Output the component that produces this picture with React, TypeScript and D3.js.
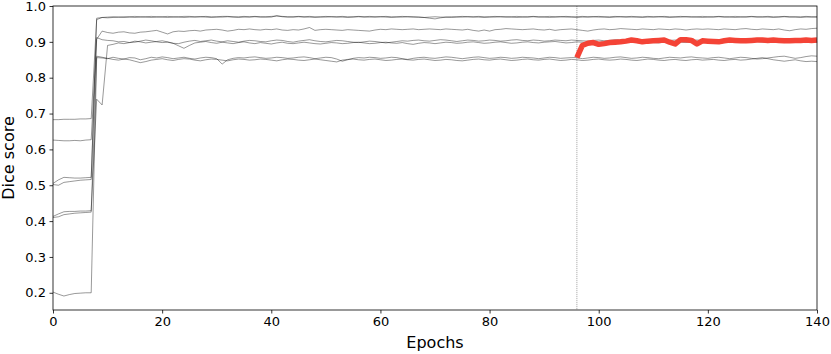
import React, { useEffect, useRef } from 'react';
import * as d3 from 'd3';

// dice score per epoch (index = epoch), one array per training run
const run1 = [
  .683, .683, .684, .684, .684, .685, .685, .686,
  .962, .968, .969, .970, .969, .970, .970, .971, .970, .970, .971, .970,
  .970, .971, .970, .970, .971, .971, .970, .970, .971, .970, .970, .971, .971, .970, .970, .971, .970, .971, .970, .970,
  .971, .972, .971, .970, .970, .971, .970, .971, .970, .970, .971, .970, .970, .971, .970, .970, .971, .970, .971, .970,
  .970, .971, .970, .970, .971, .970, .970, .969, .968, .966, .964, .967, .969, .970, .970, .971, .970, .970, .971, .970,
  .970, .971, .970, .970, .970, .971, .970, .970, .971, .970, .970, .971, .970, .970, .971, .970, .970, .971, .970, .970,
  .971, .970, .970, .971, .970, .970, .971, .970, .970, .971, .970, .970, .971, .970, .970, .971, .970, .970, .970, .971,
  .970, .970, .971, .970, .970, .971, .970, .970, .971, .970, .970, .971, .970, .970, .971, .970, .970, .970, .971, .970, .970,
];

const run2 = [
  .502, .500, .508, .510, .512, .514, .515, .516,
  .966, .968, .967, .968, .969, .968, .969, .968, .969, .969, .968, .969,
  .969, .968, .969, .969, .968, .969, .969, .970, .969, .968, .969, .969, .970, .969, .968, .969, .969, .970, .969, .969,
  .969, .973, .970, .969, .969, .970, .969, .969, .968, .969, .969, .970, .969, .969, .968, .969, .970, .969, .969, .969,
  .970, .969, .968, .969, .969, .970, .969, .969, .968, .969, .970, .969, .969, .968, .969, .969, .970, .969, .969, .968,
  .969, .969, .970, .969, .969, .968, .969, .969, .970, .969, .969, .968, .969, .970, .969, .969, .968, .969, .969, .970,
  .969, .969, .968, .969, .970, .969, .969, .969, .968, .969, .969, .970, .969, .968, .969, .969, .970, .969, .969, .968,
  .969, .969, .970, .969, .969, .968, .969, .969, .970, .969, .969, .969, .968, .969, .970, .969, .969, .968, .969, .969, .969,
];

const run3 = [
  .626, .625, .624, .624, .625, .624, .626, .627,
  .907, .930, .926, .924, .927, .928, .925, .924, .927, .928, .930, .932,
  .927, .922, .928, .930, .929, .931, .932, .930, .933, .934, .935, .933, .930, .932, .935, .934, .936, .934, .933, .935,
  .934, .936, .933, .932, .934, .933, .936, .940, .932, .934, .935, .934, .933, .932, .934, .933, .932, .931, .930, .933,
  .935, .934, .936, .935, .934, .935, .936, .934, .935, .936, .935, .934, .936, .935, .934, .933, .935, .932, .930, .933,
  .930, .934, .935, .937, .936, .935, .934, .935, .936, .934, .933, .935, .932, .934, .935, .936, .934, .932, .930, .933,
  .935, .936, .934, .935, .937, .936, .935, .934, .936, .935, .934, .936, .935, .934, .936, .935, .933, .935, .936, .935,
  .936, .935, .934, .936, .935, .934, .936, .937, .935, .934, .936, .935, .934, .936, .933, .931, .934, .936, .935, .937, .938,
];

const run4 = [
  .505, .515, .522, .521, .520, .520, .521, .522,
  .912, .906, .904, .903, .900, .901, .898, .899, .902, .905, .903, .900,
  .898, .899, .896, .895, .899, .902, .904, .901, .903, .905, .902, .900, .903, .901, .899, .902, .904, .903, .901, .900,
  .903, .905, .904, .901, .899, .902, .904, .906, .903, .901, .900, .902, .904, .903, .901, .899, .898, .900, .902, .901,
  .899, .897, .899, .901, .903, .902, .904, .905, .903, .902, .904, .906, .905, .903, .901, .903, .905, .904, .902, .903,
  .905, .904, .902, .903, .905, .906, .904, .903, .905, .904, .902, .903, .905, .904, .903, .905, .904, .903, .902, .904,
  .905, .903, .904, .906, .905, .903, .904, .905, .903, .902, .904, .905, .903, .904, .905, .903, .902, .904, .905, .904,
  .903, .905, .904, .902, .903, .905, .904, .903, .905, .904, .902, .904, .905, .903, .904, .905, .903, .902, .904, .905, .904,
];

const run5 = [
  .413, .420, .426, .427, .427, .428, .428, .429,
  .740, .724, .890, .893, .897, .895, .898, .902, .900, .897, .899, .901,
  .903, .900, .896, .889, .882, .890, .897, .899, .901, .898, .896, .899, .897, .895, .898, .900, .897, .895, .898, .896,
  .894, .897, .899, .896, .895, .897, .899, .897, .895, .894, .896, .898, .897, .895, .896, .898, .899, .897, .895, .896,
  .898, .899, .897, .896, .898, .895, .893, .896, .898, .897, .895, .897, .899, .898, .896, .897, .899, .900, .898, .896,
  .897, .899, .900, .898, .896, .897, .899, .900, .898, .897, .899, .900, .901, .899, .897, .898, .900, .899, .897, .898,
  .899, .900, .898, .897, .899, .901, .900, .898, .899, .900, .898, .897, .899, .900, .901, .899, .898, .900, .899, .898,
  .899, .900, .901, .899, .898, .900, .899, .898, .900, .901, .899, .898, .900, .899, .898, .900, .901, .899, .898, .900, .899,
];

const run6 = [
  .202, .196, .191, .195, .198, .199, .200, .200,
  .856, .855, .853, .857, .854, .852, .856, .855, .850, .853, .857, .855,
  .858, .856, .853, .855, .857, .854, .852, .855, .857, .856, .853, .838, .850, .854, .856, .855, .857, .858, .856, .854,
  .855, .857, .856, .854, .855, .857, .858, .856, .853, .855, .857, .856, .852, .846, .850, .854, .856, .855, .857, .856,
  .854, .855, .857, .856, .853, .851, .854, .856, .857, .855, .854, .856, .858, .857, .855, .853, .855, .857, .858, .856,
  .854, .855, .857, .856, .854, .855, .857, .856, .855, .853, .855, .857, .856, .854, .855, .856, .856, .853, .855, .857,
  .856, .854, .855, .857, .858, .856, .854, .855, .857, .856, .854, .853, .855, .857, .856, .855, .857, .858, .856, .855,
  .854, .856, .857, .855, .853, .855, .857, .856, .854, .852, .853, .855, .857, .859, .860, .857, .854, .856, .859, .861, .860,
];

const run7 = [
  .410, .412, .418, .420, .422, .423, .424, .425,
  .860, .857, .854, .851, .849, .852, .850, .846, .842, .845, .849, .851,
  .853, .850, .848, .851, .853, .852, .849, .847, .850, .852, .851, .849, .847, .850, .852, .851, .849, .850, .852, .851,
  .849, .847, .850, .852, .851, .849, .848, .850, .852, .850, .848, .846, .844, .849, .851, .852, .850, .849, .851, .852,
  .850, .848, .849, .851, .852, .850, .849, .851, .852, .850, .848, .849, .851, .850, .848, .847, .849, .851, .852, .850,
  .849, .851, .852, .850, .848, .849, .851, .852, .850, .849, .851, .852, .850, .848, .849, .851, .850, .848, .849, .851,
  .852, .850, .849, .850, .852, .851, .849, .848, .850, .852, .851, .849, .848, .850, .851, .849, .848, .850, .851, .849,
  .850, .851, .849, .848, .850, .851, .849, .850, .852, .854, .856, .853, .850, .848, .846, .848, .850, .847, .845, .846, .845,
];

const runs = [run1, run2, run3, run4, run5, run6, run7];

// fine-tuned run, starts at epoch 96
const fineTuneStart = 96;
const fineTune = [
  .856, .890, .896, .898, .893, .895, .898, .899, .900, .902,
  .905, .903, .900, .902, .903, .904, .905, .899, .894, .906,
  .906, .904, .894, .903, .902, .901, .900, .903, .905, .904,
  .903, .903, .904, .905, .905, .904, .905, .904, .903, .903,
  .904, .904, .905, .904, .905,
];

const xTicks = [0, 20, 40, 60, 80, 100, 120, 140];
const yTicks = [0.2, 0.3, 0.4, 0.5, 0.6, 0.7, 0.8, 0.9, 1.0];

const W = 831;
const H = 354;

export default function App() {
  const svgRef = useRef<SVGSVGElement>(null);

  useEffect(() => {
    const root = d3.select(svgRef.current);
    root.selectAll('*').remove();

    const margin = { top: 6, right: 14, bottom: 44, left: 53 };
    const width = W - margin.left - margin.right;
    const height = H - margin.top - margin.bottom;

    const svg = root.append('g').attr('transform', `translate(${margin.left},${margin.top})`);

    const x = d3.scaleLinear().domain([0, 140]).range([0, width]);
    const y = d3.scaleLinear().domain([0.152, 1.0]).range([height, 0]);

    // marker for where fine-tuning starts
    svg.append('line')
      .attr('x1', x(fineTuneStart)).attr('x2', x(fineTuneStart))
      .attr('y1', 0).attr('y2', height)
      .attr('stroke', '#9a9a9a')
      .attr('stroke-width', 0.8)
      .attr('stroke-dasharray', '1.2,0.8');

    const line = d3.line<number>()
      .x((d, i) => x(i))
      .y(d => y(d));

    runs.forEach(r => {
      svg.append('path')
        .datum(r)
        .attr('fill', 'none')
        .attr('stroke', '#000')
        .attr('stroke-opacity', 0.5)
        .attr('stroke-width', 0.8)
        .attr('stroke-linejoin', 'round')
        .attr('d', line);
    });

    const ftLine = d3.line<number>()
      .x((d, i) => x(fineTuneStart + i))
      .y(d => y(d));

    svg.append('path')
      .datum(fineTune)
      .attr('fill', 'none')
      .attr('stroke', '#f44336')
      .attr('stroke-width', 5.5)
      .attr('stroke-linejoin', 'round')
      .attr('d', ftLine);

    // axes
    const xAxis = svg.append('g')
      .attr('transform', `translate(0,${height})`)
      .call(d3.axisBottom(x).tickValues(xTicks).tickSize(3.5).tickPadding(3.5).tickFormat(d3.format('d')));
    const yAxis = svg.append('g')
      .call(d3.axisLeft(y).tickValues(yTicks).tickSize(3.5).tickPadding(3.5).tickFormat(d3.format('.1f')));

    [xAxis, yAxis].forEach(a => {
      a.select('.domain').remove();
      a.selectAll('line').attr('stroke', '#000').attr('stroke-width', 0.8);
      a.selectAll('text')
        .attr('fill', '#000')
        .style('font-family', 'DejaVu Sans')
        .style('font-size', '13px');
    });

    // frame
    svg.append('rect')
      .attr('width', width).attr('height', height)
      .attr('fill', 'none')
      .attr('stroke', '#000')
      .attr('stroke-width', 0.8);

    svg.append('text')
      .attr('x', width / 2)
      .attr('y', height + 38)
      .attr('text-anchor', 'middle')
      .style('font-family', 'DejaVu Sans')
      .style('font-size', '16px')
      .text('Epochs');

    svg.append('text')
      .attr('transform', `translate(${-margin.left + 13.5},${height / 2}) rotate(-90)`)
      .attr('text-anchor', 'middle')
      .style('font-family', 'DejaVu Sans')
      .style('font-size', '16px')
      .text('Dice score');
  }, []);

  return (
    <svg
      ref={svgRef}
      width={W}
      height={H}
      style={{ position: 'absolute', left: 0, top: 0, background: '#fff' }}
    />
  );
}
